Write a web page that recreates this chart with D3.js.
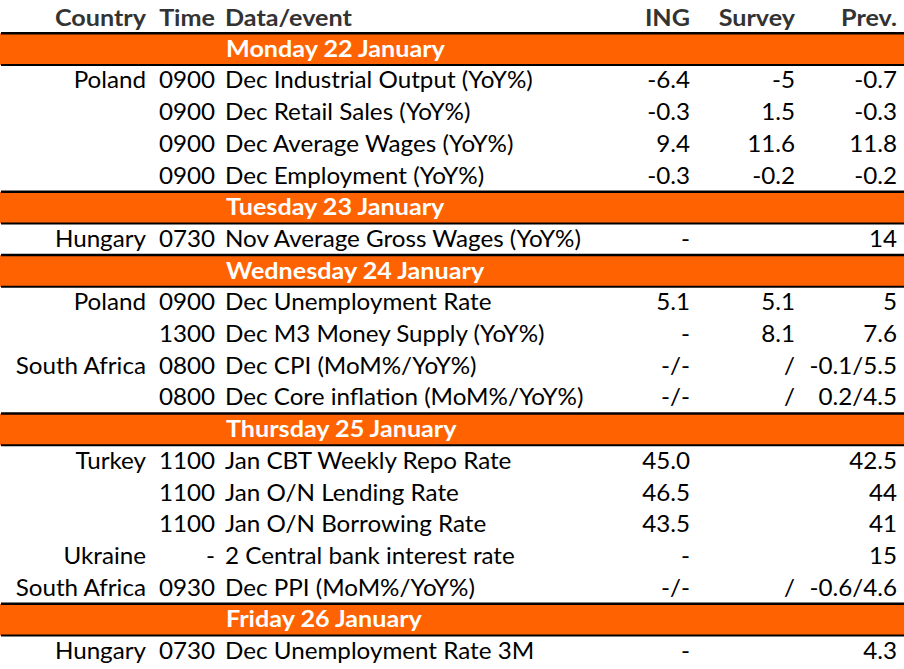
<!DOCTYPE html>
<html><head><meta charset="utf-8">
<script src="https://cdn.jsdelivr.net/npm/d3@7"></script>
<style>
html,body{margin:0;padding:0;background:#fff;}
svg{display:block;}
text{font-family:Lato,"Open Sans",sans-serif;}
</style></head>
<body>
<svg id="c" width="904" height="669"></svg>
<script>
const headers = ["Country","Time","Data/event","ING","Survey","Prev."];
const days = ["Monday 22 January","Tuesday 23 January","Wednesday 24 January","Thursday 25 January","Friday 26 January"];
const countries = ["Poland","","","","Hungary","Poland","","South Africa","","Turkey","","","Ukraine","South Africa","Hungary"];
const times = ["0900","0900","0900","0900","0730","0900","1300","0800","0800","1100","1100","1100","-","0930","0730"];
const events = ["Dec Industrial Output (YoY%)","Dec Retail Sales (YoY%)","Dec Average Wages (YoY%)","Dec Employment (YoY%)",
  "Nov Average Gross Wages (YoY%)",
  "Dec Unemployment Rate","Dec M3 Money Supply (YoY%)","Dec CPI (MoM%/YoY%)","Dec Core inflation (MoM%/YoY%)",
  "Jan CBT Weekly Repo Rate","Jan O/N Lending Rate","Jan O/N Borrowing Rate","2 Central bank interest rate","Dec PPI (MoM%/YoY%)",
  "Dec Unemployment Rate 3M"];
const ing = ["-6.4","-0.3","9.4","-0.3","-","5.1","-","-/-","-/-","45.0","46.5","43.5","-","-/-","-"];
const survey = ["-5","1.5","11.6","-0.2","","5.1","8.1","/","/","","","","","/",""];
const prev = ["-0.7","-0.3","11.8","-0.2","14","5","7.6","-0.1/5.5","0.2/4.5","42.5","44","41","15","-0.6/4.6","4.3"];
const eventsPerDay = [4,1,4,5,1];

// build rows
const rows = [{type:"header"}];
let k = 0;
days.forEach((d,i)=>{
  rows.push({type:"day", label:d});
  for(let j=0;j<eventsPerDay[i];j++,k++){
    rows.push({type:"data", country:countries[k], time:times[k], event:events[k], ing:ing[k], survey:survey[k], prev:prev[k]});
  }
});

const W = 904, H = 669;
const svg = d3.select("#c");
const y = d3.scaleBand().domain(d3.range(rows.length)).range([1.5, 667.2]).padding(0);
const cols = d3.scaleOrdinal().domain(headers).range([146, 215, 225, 690, 795, 897]);
const anchors = {"Country":"end","Time":"end","Data/event":"start","ING":"end","Survey":"end","Prev.":"end"};
const keys = {"Country":"country","Time":"time","Data/event":"event","ING":"ing","Survey":"survey","Prev.":"prev"};
const BASE = 23.5;

// measure compression factors
function measure(txt, weight){
  const t = svg.append("text").attr("font-size",23).attr("font-weight",weight).text(txt);
  const w = t.node().getComputedTextLength(); t.remove(); return w;
}
const fReg = 308 / measure("Dec Industrial Output (YoY%)", 400);
const fBold = 219 / measure("Monday 22 January", 700);

// orange bands
const dayRows = rows.map((r,i)=>({r,i})).filter(d=>d.r.type==="day");
svg.selectAll("rect.day").data(dayRows).join("rect")
  .attr("x",0).attr("width",W)
  .attr("y",d=>y(d.i)).attr("height",y.bandwidth())
  .attr("fill","#FF6200");

// lines
svg.selectAll("line.top").data(dayRows).join("line")
  .attr("x1",1).attr("x2",W).attr("y1",d=>y(d.i)).attr("y2",d=>y(d.i))
  .attr("stroke","#000").attr("stroke-width",2.5);
svg.selectAll("line.bot").data(dayRows).join("line")
  .attr("x1",1).attr("x2",W).attr("y1",d=>y(d.i)+y.bandwidth()).attr("y2",d=>y(d.i)+y.bandwidth())
  .attr("stroke","#000").attr("stroke-width",2);

const g = svg.append("g");
// header
headers.forEach(h=>{
  g.append("text").attr("transform",`translate(${cols(h)},${y(0)+BASE+0.5}) scale(${fBold},1)`)
   .attr("text-anchor",anchors[h]).attr("font-size",23).attr("font-weight",700).attr("fill","#333").text(h);
});
rows.forEach((r,i)=>{
  if(r.type==="day"){
    g.append("text").attr("transform",`translate(${cols("Data/event")+1},${y(i)+BASE}) scale(${fBold},1)`)
      .attr("font-size",23).attr("font-weight",700).attr("fill","#fff").text(r.label);
  } else if(r.type==="data"){
    headers.forEach(h=>{
      const v = r[keys[h]];
      if(!v) return;
      g.append("text").attr("transform",`translate(${cols(h)},${y(i)+BASE}) scale(${fReg},1)`)
        .attr("text-anchor",anchors[h]).attr("font-size",23).attr("fill","#000").text(v);
    });
  }
});
</script>
</body></html>
